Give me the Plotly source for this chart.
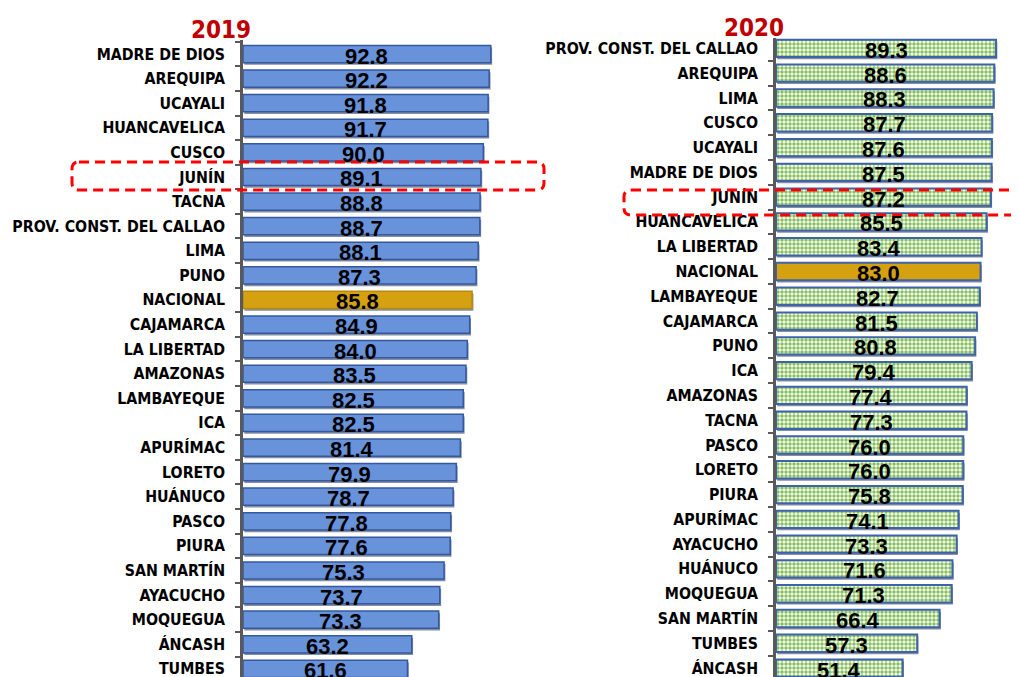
import plotly.graph_objects as go

cats_2019 = ["MADRE DE DIOS", "AREQUIPA", "UCAYALI", "HUANCAVELICA", "CUSCO", "JUNÍN", "TACNA",
             "PROV. CONST. DEL CALLAO", "LIMA", "PUNO", "NACIONAL", "CAJAMARCA", "LA LIBERTAD",
             "AMAZONAS", "LAMBAYEQUE", "ICA", "APURÍMAC", "LORETO", "HUÁNUCO", "PASCO", "PIURA",
             "SAN MARTÍN", "AYACUCHO", "MOQUEGUA", "ÁNCASH", "TUMBES"]
vals_2019 = [92.8, 92.2, 91.8, 91.7, 90.0, 89.1, 88.8, 88.7, 88.1, 87.3, 85.8, 84.9, 84.0,
             83.5, 82.5, 82.5, 81.4, 79.9, 78.7, 77.8, 77.6, 75.3, 73.7, 73.3, 63.2, 61.6]

cats_2020 = ["PROV. CONST. DEL CALLAO", "AREQUIPA", "LIMA", "CUSCO", "UCAYALI", "MADRE DE DIOS",
             "JUNÍN", "HUANCAVELICA", "LA LIBERTAD", "NACIONAL", "LAMBAYEQUE", "CAJAMARCA", "PUNO",
             "ICA", "AMAZONAS", "TACNA", "PASCO", "LORETO", "PIURA", "APURÍMAC", "AYACUCHO",
             "HUÁNUCO", "MOQUEGUA", "SAN MARTÍN", "TUMBES", "ÁNCASH"]
vals_2020 = [89.3, 88.6, 88.3, 87.7, 87.6, 87.5, 87.2, 85.5, 83.4, 83.0, 82.7, 81.5, 80.8,
             79.4, 77.4, 77.3, 76.0, 76.0, 75.8, 74.1, 73.3, 71.6, 71.3, 66.4, 57.3, 51.4]

titles = ["2019", "2020"]
national = "NACIONAL"

W, H = 1019, 677
OFF = 8  # page body margin
NARROW = "DejaVu Sans Condensed, Liberation Sans Narrow, Arial Narrow, sans-serif"
VALFONT = "Liberation Sans, Arial, sans-serif"
GOLD = "#D6A111"
AXC = "#595959"
GREEN = "#86C05A"


def px(x):
    return (x - OFF) / W


def py(y):
    return 1 - (y - OFF) / H


fig = go.Figure()

# ---- 2019 panel ----
fig.add_trace(go.Bar(
    y=cats_2019, x=vals_2019, orientation="h", base=0.5, width=0.7, offset=-0.35 + 0.09,
    marker=dict(color="rgba(35,50,90,0.55)", line=dict(width=0)),
    xaxis="x", yaxis="y", hoverinfo="skip", showlegend=False))
fig.add_trace(go.Bar(
    y=cats_2019, x=vals_2019, orientation="h", width=0.7, offset=-0.35,
    marker=dict(color=[GOLD if c == national else "#6892DA" for c in cats_2019],
                line=dict(color=["#B88A0C" if c == national else "#35599E" for c in cats_2019],
                          width=1.5)),
    xaxis="x", yaxis="y", showlegend=False))

# ---- 2020 panel ----
fig.add_trace(go.Bar(
    y=cats_2020, x=vals_2020, orientation="h", base=0.5, width=0.7, offset=-0.35 + 0.09,
    marker=dict(color="rgba(35,50,90,0.55)", line=dict(width=0)),
    xaxis="x2", yaxis="y2", hoverinfo="skip", showlegend=False))
reg_c = [c for c in cats_2020 if c != national]
reg_v = [v for c, v in zip(cats_2020, vals_2020) if c != national]
nat_c = [c for c in cats_2020 if c == national]
nat_v = [v for c, v in zip(cats_2020, vals_2020) if c == national]
fig.add_trace(go.Bar(
    y=reg_c, x=reg_v, orientation="h", width=0.7, offset=-0.35,
    marker=dict(color="white", line=dict(color="#3F63A8", width=2),
                pattern=dict(shape=".", fgcolor=GREEN, bgcolor="white",
                             size=4, solidity=0.6, fillmode="replace")),
    xaxis="x2", yaxis="y2", showlegend=False))
fig.add_trace(go.Bar(
    y=nat_c, x=nat_v, orientation="h", width=0.7, offset=-0.35,
    marker=dict(color=GOLD, line=dict(color="#3F63A8", width=2)),
    xaxis="x2", yaxis="y2", showlegend=False))

# value labels
for cats, vals, xr, yr in [(cats_2019, vals_2019, "x", "y"), (cats_2020, vals_2020, "x2", "y2")]:
    for c, v in zip(cats, vals):
        fig.add_annotation(x=v / 2, y=c, xref=xr, yref=yr, text=f"<b>{v:.1f}</b>", showarrow=False,
                           yshift=-2, font=dict(family=VALFONT, size=22, color="black"))

# titles
fig.add_annotation(x=px(221), y=py(30), xref="paper", yref="paper", text=f"<b>{titles[0]}</b>",
                   xanchor="center", yanchor="middle", showarrow=False,
                   font=dict(family=NARROW, size=24, color="#C00000"))
fig.add_annotation(x=px(754), y=py(28), xref="paper", yref="paper", text=f"<b>{titles[1]}</b>",
                   xanchor="center", yanchor="middle", showarrow=False,
                   font=dict(family=NARROW, size=24, color="#C00000"))


def rrect(x0, y0, x1, y1, r):
    return (f"M {px(x0 + r)},{py(y0)} L {px(x1 - r)},{py(y0)} Q {px(x1)},{py(y0)} {px(x1)},{py(y0 + r)} "
            f"L {px(x1)},{py(y1 - r)} Q {px(x1)},{py(y1)} {px(x1 - r)},{py(y1)} "
            f"L {px(x0 + r)},{py(y1)} Q {px(x0)},{py(y1)} {px(x0)},{py(y1 - r)} "
            f"L {px(x0)},{py(y0 + r)} Q {px(x0)},{py(y0)} {px(x0 + r)},{py(y0)} Z")


fig.add_shape(type="path", xref="paper", yref="paper", path=rrect(72, 162, 544, 190, 7),
              line=dict(color="#FF0000", width=3, dash="10px,6px"))
fig.add_shape(type="path", xref="paper", yref="paper", path=rrect(624, 190, 1045, 215, 7),
              line=dict(color="#FF0000", width=3, dash="10px,6px"))

yax = dict(type="category", showline=True, linecolor=AXC, linewidth=2.5, ticks="outside",
           tickson="boundaries", ticklen=5, tickwidth=2, tickcolor=AXC, showgrid=False,
           zeroline=False, ticklabelstandoff=12, automargin=False,
           tickfont=dict(family=NARROW, size=15.8, color="black", weight=700))

fig.update_layout(
    width=W, height=H, margin=dict(l=0, r=0, t=0, b=0, pad=0),
    paper_bgcolor="white", plot_bgcolor="white", barmode="overlay", showlegend=False,
    xaxis=dict(domain=[px(243), px(510)], range=[0, 100], visible=False, automargin=False),
    yaxis=dict(domain=[py(677), py(40)], range=[25.33, -0.57], categoryarray=cats_2019,
               categoryorder="array", anchor="x", **yax),
    xaxis2=dict(domain=[px(776), px(1017)], range=[0, 97.8], visible=False, anchor="y2",
                automargin=False),
    yaxis2=dict(domain=[py(677), py(38)], range=[25.36, -0.42], categoryarray=cats_2020,
                categoryorder="array", anchor="x2", **yax),
)

fig.write_html("out.html")
